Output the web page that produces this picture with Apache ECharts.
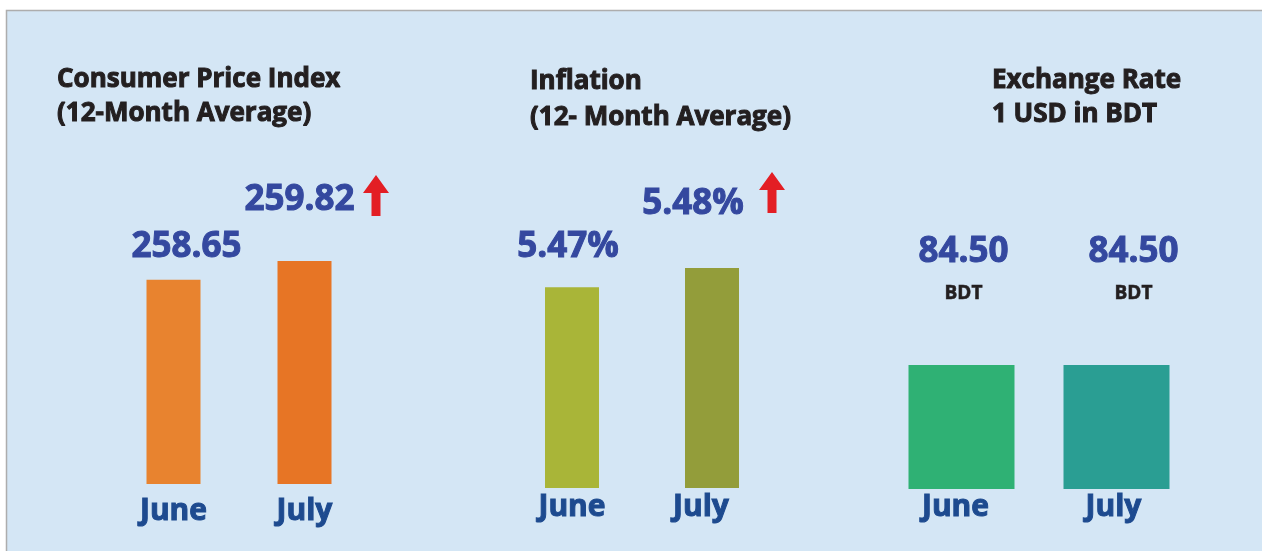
<!DOCTYPE html>
<html>
	<head>
		<meta charset="utf-8">
		<script src="https://cdn.jsdelivr.net/npm/echarts@6/dist/echarts.min.js"></script>
		<title></title>
		<style>
			html, body { margin: 0; padding: 0; background: #fff; overflow: hidden; }
		</style>
	</head>
	<body>
		<div id="main" style="width: 1262px;height:551px;"></div>
		<script type="text/javascript">
			// data
			var months = ['June', 'July'];
			var cpiValues = [258.65, 259.82];
			var inflationValues = [5.47, 5.48];
			var exchangeValues = [84.50, 84.50];

			var cpiColors = ['#e8832f', '#e77525'];
			var inflationColors = ['#a9b538', '#939d3a'];
			var exchangeColors = ['#2fb174', '#2a9e93'];

			var font = 'Open Sans';
			var valueColor = '#34489f';
			var monthColor = '#1d4a8f';
			var titleColor = '#231f20';

			function bars(values, colors, offsets) {
				return values.map(function(v, i) {
					return {
						value: v,
						itemStyle: { color: colors[i] },
						label: { offset: offsets[i] }
					};
				});
			}

			function monthStyle(pad) {
				return {
					fontFamily: font, fontWeight: 'bold', fontSize: 30, color: monthColor,
					textBorderColor: monthColor, textBorderWidth: 1, padding: pad
				};
			}

			function xAxisOf(index, margin, pads) {
				return {
					type: 'category',
					gridIndex: index,
					data: months,
					axisLine: { show: false },
					axisTick: { show: false },
					axisLabel: {
						margin: margin,
						formatter: function(v, i) { return '{m' + i + '|' + v + '}'; },
						rich: { m0: monthStyle(pads[0]), m1: monthStyle(pads[1]) }
					}
				};
			}

			function yAxisOf(index, min, max) {
				return { type: 'value', gridIndex: index, min: min, max: max, show: false, splitLine: { show: false } };
			}

			function titleOf(text, left, top, lineHeight) {
				return {
					text: text, left: left, top: top, padding: 0,
					textStyle: {
						fontFamily: font, fontWeight: 'bold', fontSize: 26, lineHeight: lineHeight,
						color: titleColor, textBorderColor: titleColor, textBorderWidth: 1
					}
				};
			}

			function arrow(x, y) {
				// head 26 wide, 18 tall; shaft 9 wide
				return {
					type: 'polygon',
					x: x, y: y,
					shape: { points: [[13, 0], [26, 18], [17.5, 18], [17.5, 41], [8.5, 41], [8.5, 18], [0, 18]] },
					style: { fill: '#e31e24' },
					z: 10
				};
			}

			var myChart = echarts.init(document.getElementById('main'));

			var valueLabel = {
				show: true,
				position: ['50%', 0],
				align: 'center',
				verticalAlign: 'middle',
				fontFamily: font,
				fontWeight: 'bold',
				fontSize: 35,
				color: valueColor,
				textBorderColor: valueColor,
				textBorderWidth: 1
			};

			var option = {
				animation: false,
				title: [
					titleOf('Consumer Price Index\n(12-Month Average)', 57, 63, 34),
					titleOf('Inflation\n(12- Month Average)', 530, 64, 36),
					titleOf('Exchange Rate\n1 USD in BDT', 992, 64, 34)
				],
				graphic: [
					{
						type: 'rect',
						shape: { x: 6.5, y: 10.5, width: 1400, height: 700 },
						style: { fill: '#d4e6f5', stroke: '#adadad', lineWidth: 1.5 },
						z: -10
					},
					arrow(363, 175),
					arrow(759, 172)
				],
				grid: [
					{ left: 108, top: 258, width: 262, height: 226 },
					{ left: 502, top: 268, width: 280, height: 220 },
					{ left: 884, top: 365, width: 310, height: 124 }
				],
				xAxis: [
					xAxisOf(0, 12, [0, 0]),
					xAxisOf(1, 4, [0, [0, 22, 0, 0]]),
					xAxisOf(2, 3, [[0, 12, 0, 0], [0, 6, 0, 0]])
				],
				yAxis: [
					yAxisOf(0, 246, 260),
					yAxisOf(1, 5.365, 5.48),
					yAxisOf(2, 0, 84.5)
				],
				series: [
					{
						type: 'bar', xAxisIndex: 0, yAxisIndex: 0, barWidth: 54,
						data: bars(cpiValues, cpiColors, [[13, -33], [-5, -61]]),
						label: Object.assign({}, valueLabel, {
							formatter: function(p) { return p.value.toFixed(2); }
						})
					},
					{
						type: 'bar', xAxisIndex: 1, yAxisIndex: 1, barWidth: 54,
						data: bars(inflationValues, inflationColors, [[-4, -40], [-19, -64]]),
						label: Object.assign({}, valueLabel, {
							formatter: function(p) { return p.value.toFixed(2) + '%'; }
						})
					},
					{
						type: 'bar', xAxisIndex: 2, yAxisIndex: 2, barWidth: 106,
						data: bars(exchangeValues, exchangeColors, [[2, -92], [17, -92]]),
						label: Object.assign({}, valueLabel, {
							formatter: function(p) { return '{v|' + p.value.toFixed(2) + '}\n{u|BDT}'; },
							rich: {
								v: { fontFamily: font, fontWeight: 'bold', fontSize: 35, color: valueColor, lineHeight: 42,
									textBorderColor: valueColor, textBorderWidth: 1 },
								u: { fontFamily: font, fontWeight: 'bold', fontSize: 19, color: titleColor, lineHeight: 42,
									textBorderColor: titleColor, textBorderWidth: 0.6 }
							}
						})
					}
				]
			};

			myChart.setOption(option);
		</script>
	</body>
</html>
